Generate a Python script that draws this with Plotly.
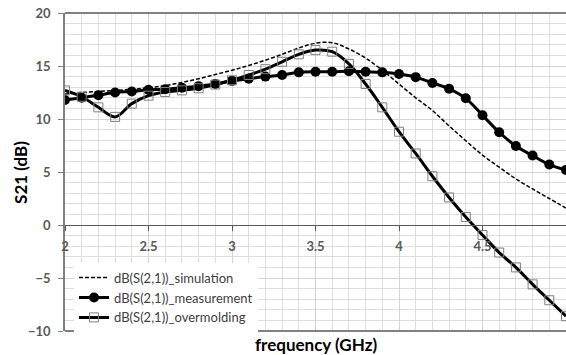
import plotly.graph_objects as go

freq = [2.0, 2.1, 2.2, 2.3, 2.4, 2.5, 2.6, 2.7, 2.8, 2.9, 3.0, 3.1, 3.2, 3.3, 3.4, 3.5,
        3.6, 3.7, 3.8, 3.9, 4.0, 4.1, 4.2, 4.3, 4.4, 4.5, 4.6, 4.7, 4.8, 4.9, 5.0]

simulation = [12.35, 12.5, 12.6, 12.7, 12.8, 12.95, 13.15, 13.45, 13.8, 14.2, 14.6,
              15.05, 15.55, 16.1, 16.7, 17.15, 17.2, 16.6, 15.75, 14.6, 13.3, 12.0,
              10.8, 9.35, 7.95, 6.6, 5.45, 4.35, 3.4, 2.5, 1.6]

measurement = [11.8, 12.0, 12.25, 12.5, 12.6, 12.75, 12.8, 12.95, 13.1, 13.3, 13.6,
               13.8, 14.0, 14.15, 14.4, 14.45, 14.45, 14.5, 14.45, 14.4, 14.25, 13.95,
               13.4, 12.85, 11.95, 10.35, 8.75, 7.45, 6.55, 5.7, 5.2]

overmolding = [12.7, 12.1, 11.1, 10.2, 11.45, 12.2, 12.55, 12.7, 12.9, 13.25, 13.65,
               14.15, 14.7, 15.4, 16.1, 16.5, 16.35, 15.2, 13.3, 11.1, 8.8, 6.75,
               4.6, 2.6, 0.75, -0.95, -2.6, -4.0, -5.6, -7.1, -8.6]

x_tickvals = [2, 2.5, 3, 3.5, 4, 4.5, 5]
x_ticktext = ["2", "2.5", "3", "3.5", "4", "4.5", "5"]
y_tickvals = [-10, -5, 0, 5, 10, 15, 20]

names = ["dB(S(2,1))_simulation", "dB(S(2,1))_measurement", "dB(S(2,1))_overmolding"]

fig = go.Figure()
fig.add_trace(go.Scatter(
    x=freq, y=simulation, mode="lines", name=names[0],
    line=dict(color="black", width=1.5, dash="4px,2px", shape="spline")))
fig.add_trace(go.Scatter(
    x=freq, y=measurement, mode="lines+markers", name=names[1],
    line=dict(color="black", width=3, shape="spline"),
    marker=dict(symbol="circle", size=10, color="black")))
fig.add_trace(go.Scatter(
    x=freq, y=overmolding, mode="lines+markers", name=names[2],
    line=dict(color="black", width=3, shape="spline"),
    marker=dict(symbol="square-open", size=9, color="#7f7f7f",
                line=dict(width=1, color="#7f7f7f"))))

tickfont = dict(family="Lato", size=13, color="#595959", weight="bold")

fig.update_layout(
    width=566, height=355,
    margin=dict(l=65, r=0, t=13, b=24),
    paper_bgcolor="white", plot_bgcolor="white",
    showlegend=True,
    legend=dict(x=0.018, y=0.215, xanchor="left", yanchor="top",
                bgcolor="white", borderwidth=0,
                font=dict(family="Lato", size=13, color="#404040"),
                tracegroupgap=0, itemwidth=30),
    xaxis=dict(range=[2, 5], anchor="free", position=1/3,
               showline=True, linecolor="#595959", linewidth=1,
               ticks="outside", ticklen=5, tickcolor="#595959",
               tickmode="array", tickvals=x_tickvals, ticktext=x_ticktext,
               tickfont=tickfont, ticklabelstandoff=4,
               showgrid=True, gridcolor="#d4d4d4", gridwidth=1,
               minor=dict(tick0=2, dtick=0.1, showgrid=True, gridcolor="#dedede", gridwidth=1),
               zeroline=False, automargin=False),
    yaxis=dict(range=[-10, 20], domain=[0, 1],
               showline=True, linecolor="#808080", linewidth=1.5,
               ticks="outside", ticklen=5, tickcolor="#808080",
               tickmode="array", tickvals=y_tickvals,
               tickfont=tickfont, ticklabelstandoff=5,
               showgrid=True, gridcolor="#d4d4d4", gridwidth=1,
               minor=dict(tick0=-10, dtick=1, showgrid=True, gridcolor="#dedede", gridwidth=1),
               zeroline=False, automargin=False),
    shapes=[
        dict(type="line", xref="paper", yref="paper", x0=0, x1=1, y0=1, y1=1,
             line=dict(color="#808080", width=2)),
        dict(type="line", xref="paper", yref="paper", x0=0, x1=1, y0=0, y1=0,
             line=dict(color="#808080", width=2)),
    ],
    annotations=[
        dict(text="frequency (GHz)", xref="paper", yref="paper", x=0.5, y=-0.044,
             xanchor="center", yanchor="middle", showarrow=False,
             font=dict(family="Lato", size=17, color="black", weight="bold")),
        dict(text="S21 (dB)", xref="paper", yref="paper", x=-0.09, y=0.5,
             xanchor="center", yanchor="middle", showarrow=False, textangle=-90,
             font=dict(family="Lato", size=17, color="black", weight="bold")),
    ],
)

fig.write_html("out.html", config={"displayModeBar": False},
               post_script="document.body.style.margin='0';document.body.style.overflow='hidden';")
